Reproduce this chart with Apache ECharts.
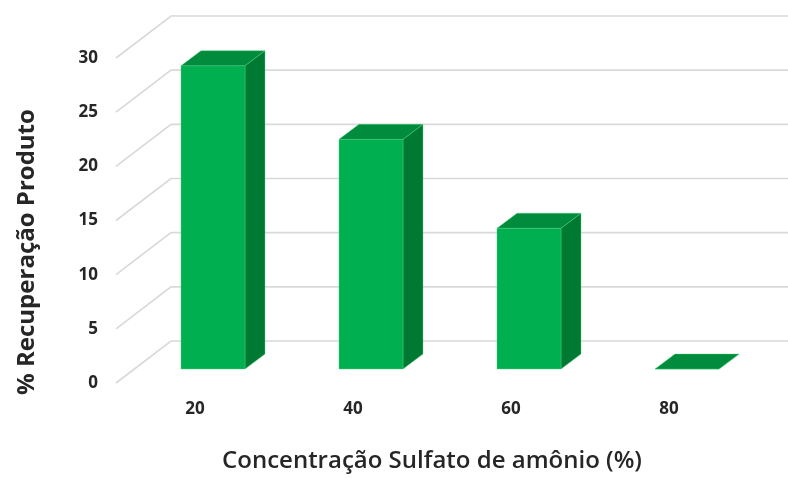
<!DOCTYPE html>
<html>
<head>
<meta charset="utf-8">
<script src="https://cdn.jsdelivr.net/npm/echarts@6/dist/echarts.min.js"></script>
<style>
  html, body { margin: 0; padding: 0; background: #fff; }
  #chart { width: 788px; height: 478px; }
</style>
</head>
<body>
<div id="chart"></div>
<script>
const categories = ['20', '40', '60', '80']
const recuperacao = [28.0, 21.2, 13.0, 0]
const yTicks = [0, 5, 10, 15, 20, 25, 30]

// oblique "3D" offsets in pixels (Excel style)
const WALL_DX = 55, WALL_DY = -42
const BAR_DX = 18, BAR_DY = -14
const DEPTH_DX = 20, DEPTH_DY = -15

const chart = echarts.init(document.getElementById('chart'))

const option = {
  animation: false,
  backgroundColor: '#fff',
  textStyle: { fontFamily: 'Open Sans' },
  grid: { left: 116, right: 40, top: 58, bottom: 94 },
  xAxis: {
    type: 'category',
    data: categories,
    axisLine: { show: false },
    axisTick: { show: false },
    axisLabel: { margin: 18, fontSize: 17, fontWeight: 'bold', color: '#262626' },
    name: 'Concentração Sulfato de amônio (%)',
    nameLocation: 'middle',
    nameGap: 66,
    nameTextStyle: { fontSize: 24, fontWeight: 600, color: '#262626' }
  },
  yAxis: {
    type: 'value',
    min: 0,
    max: 30,
    interval: 5,
    axisLine: { show: false },
    axisTick: { show: false },
    splitLine: { show: false },
    axisLabel: { margin: 18, fontSize: 17, fontWeight: 'bold', color: '#262626' }
  },
  graphic: [{
    type: 'text',
    rotation: Math.PI / 2,
    x: 27, y: 252,
    style: {
      text: '% Recuperação Produto',
      font: 'bold 24px "Open Sans"',
      fill: '#262626',
      align: 'center',
      verticalAlign: 'middle'
    }
  }],
  series: [
    {
      // side wall diagonals + back wall gridlines
      type: 'custom',
      z: 1,
      silent: true,
      data: yTicks.map(v => [0, v]),
      renderItem: (params, api) => {
        const p = api.coord([0, api.value(1)])
        const x0 = params.coordSys.x
        const y = p[1]
        return {
          type: 'polyline',
          shape: { points: [[x0, y], [x0 + WALL_DX, y + WALL_DY], [api.getWidth(), y + WALL_DY]] },
          style: { stroke: '#d9d9d9', lineWidth: 1.6, fill: null }
        }
      }
    },
    {
      type: 'custom',
      z: 2,
      data: recuperacao.map((v, i) => [i, v]),
      renderItem: (params, api) => {
        const base = api.coord([api.value(0), 0])
        const top = api.coord([api.value(0), api.value(1)])
        const bw = api.size([1, 0])[0] * 0.405
        const x0 = base[0] + BAR_DX - bw / 2
        const x1 = x0 + bw
        const yb = base[1] + BAR_DY
        const yt = top[1] + BAR_DY
        return {
          type: 'group',
          children: [
            {
              type: 'polygon',
              shape: { points: [[x1, yt], [x1 + DEPTH_DX, yt + DEPTH_DY], [x1 + DEPTH_DX, yb + DEPTH_DY], [x1, yb]] },
              style: { fill: '#007a33', stroke: '#4fd47f', lineWidth: 0.4 }
            },
            {
              type: 'rect',
              shape: { x: x0, y: yt, width: bw, height: yb - yt },
              style: { fill: '#00b050', stroke: '#4fd47f', lineWidth: 0.4 }
            },
            {
              type: 'polygon',
              shape: { points: [[x0, yt], [x0 + DEPTH_DX, yt + DEPTH_DY], [x1 + DEPTH_DX, yt + DEPTH_DY], [x1, yt]] },
              style: { fill: '#008c3c', stroke: '#4fd47f', lineWidth: 0.4 }
            }
          ]
        }
      }
    }
  ]
}

chart.setOption(option)
</script>
</body>
</html>
